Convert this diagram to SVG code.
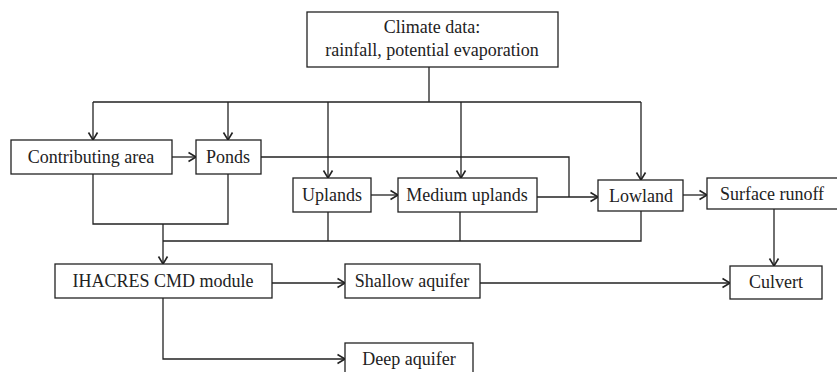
<svg xmlns="http://www.w3.org/2000/svg" width="837" height="372" viewBox="0 0 837 372">
<defs>
<marker id="ah" markerWidth="10" markerHeight="12" refX="8.5" refY="6" orient="auto" markerUnits="userSpaceOnUse">
<path d="M1,1.5 L8.5,6 L1,10.5" fill="none" stroke="#222" stroke-width="1.6"/>
</marker>
<style>
rect{fill:#fff;stroke:#222;stroke-width:1.3}
text{font-family:"Liberation Serif","Times New Roman",serif;font-size:18px;fill:#222;text-anchor:middle}
.c{fill:none;stroke:#222;stroke-width:1.3}
.a{marker-end:url(#ah)}
</style>
</defs>
<rect x="0" y="0" width="837" height="372" style="fill:#fff;stroke:none"/>
<g id="connectors">
<path class="c" d="M429,67 V102 M93,102 H641"/>
<path class="c a" d="M93,102 V140"/>
<path class="c a" d="M228,102 V140"/>
<path class="c a" d="M328,102 V178"/>
<path class="c a" d="M461,102 V178"/>
<path class="c a" d="M641,102 V180"/>
<path class="c a" d="M172,157 H196"/>
<path class="c" d="M261,157 H569 V197"/>
<path class="c a" d="M371,195 H398"/>
<path class="c a" d="M537,197 H598"/>
<path class="c a" d="M683,195 H707"/>
<path class="c" d="M93,174 V224 H228 V174"/>
<path class="c a" d="M163,224 V264"/>
<path class="c" d="M163,241 H641 V211 M328,212 V241 M460,212 V241"/>
<path class="c a" d="M272,283 H345"/>
<path class="c a" d="M480,283 H730"/>
<path class="c a" d="M774,209 V266"/>
<path class="c a" d="M163,298 V359 H345"/>
</g>
<g id="climate"><rect x="307" y="12" width="251" height="55"/><text x="432" y="33">Climate data:</text><text x="432" y="56">rainfall, potential evaporation</text></g>
<g id="contributing"><rect x="11" y="140" width="161" height="34"/><text x="91" y="163">Contributing area</text></g>
<g id="ponds"><rect x="196" y="140" width="65" height="34"/><text x="228" y="163">Ponds</text></g>
<g id="uplands"><rect x="293" y="178" width="78" height="34"/><text x="332" y="201">Uplands</text></g>
<g id="medium"><rect x="398" y="178" width="139" height="34"/><text x="467" y="201">Medium uplands</text></g>
<g id="lowland"><rect x="598" y="180" width="85" height="31"/><text x="641" y="202">Lowland</text></g>
<g id="surface"><rect x="707" y="178" width="135" height="31"/><text x="772" y="200">Surface runoff</text></g>
<g id="ihacres"><rect x="55" y="264" width="217" height="34"/><text x="163" y="287">IHACRES CMD module</text></g>
<g id="shallow"><rect x="345" y="264" width="135" height="34"/><text x="412" y="287">Shallow aquifer</text></g>
<g id="culvert"><rect x="730" y="266" width="92" height="33"/><text x="776" y="288">Culvert</text></g>
<g id="deep"><rect x="345" y="343" width="128" height="36"/><text x="409" y="365">Deep aquifer</text></g>
</svg>
